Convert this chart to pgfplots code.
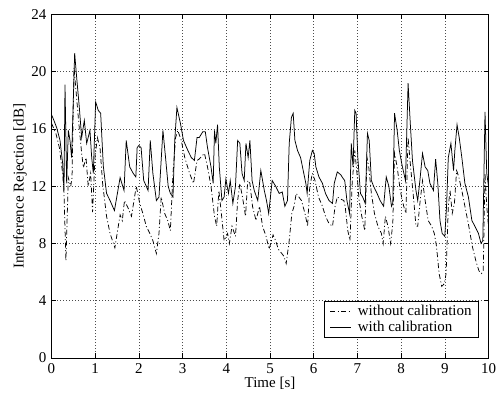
\documentclass[border=0pt]{standalone}
\usepackage{fontspec}
\setmainfont{Liberation Serif}
\usepackage{pgfplots}
\pgfplotsset{compat=1.18}
\begin{document}
\fontsize{15}{18}\selectfont
\begin{tikzpicture}
\begin{axis}[name=ax, scale only axis, width=437pt, height=343.5pt,
  xmin=0, xmax=10, ymin=0, ymax=24,
  xtick={0,1,...,10}, ytick={0,4,...,24},
  tick align=inside, tick pos=both, major tick length=5pt,
  every tick/.style={black, line width=0.6pt},
  axis line style={line width=1pt},
  grid=major,
  major grid style={black!70, line width=0.5pt, dash pattern=on 0.7pt off 2.3pt},
  /pgf/number format/assume math mode=true,
  ticklabel style={font=\fontsize{15}{18}\selectfont},
  xlabel={Time [s]}, ylabel={Interference Rejection [dB]},
  xlabel style={at={(axis description cs:0.5,-0.0728)}, anchor=center},
  ylabel style={at={(axis description cs:-0.072,0.5)}, anchor=center},
  legend style={at={(0.978,0.058)}, anchor=south east, draw=black, line width=0.6pt,
    fill=white, font=\fontsize{15}{18}\selectfont, row sep=-1.5pt, column sep=4pt,
    inner xsep=5pt, inner ysep=2.5pt},
  legend cell align=left,
  legend image code/.code={\draw[#1] (0cm,0cm) -- (0.75cm,0cm);},
]
\addplot[black, line width=0.75pt, sharp plot, dash pattern=on 5pt off 2.5pt on 1pt off 2.5pt] coordinates {
(0,16.4)(0.10,15.7)(0.18,14.7)(0.255,12.9)(0.286,11.5)(0.33,6.8)(0.385,12.6)(0.44,12.0)(0.47,12.6)
(0.515,20.3)(0.614,16.8)(0.69,14.3)(0.73,13.3)(0.79,14.0)(0.84,12.0)(0.896,12.9)(0.94,10.2)
(0.995,14.0)(1.05,15.4)(1.11,14.7)(1.17,12.2)(1.26,9.9)(1.34,8.7)(1.45,7.7)(1.57,10.0)(1.62,9.6)
(1.67,11.0)(1.75,10.5)(1.83,9.9)(1.94,12.0)(2.02,10.8)(2.09,10.1)(2.17,9.2)(2.25,8.7)(2.32,8.2)
(2.40,7.3)(2.46,8.7)(2.51,11.25)(2.59,10.1)(2.66,9.6)(2.72,8.9)(2.78,12.9)(2.84,15.4)(2.89,15.9)
(2.97,15.2)(3.05,14.0)(3.16,12.9)(3.25,12.2)(3.33,13.8)(3.38,13.9)(3.50,14.3)(3.57,13.35)
(3.65,12.0)(3.73,9.9)(3.78,9.2)(3.83,11.7)(3.88,10.3)(3.95,8.2)(4.03,8.7)(4.07,8.0)(4.13,9.2)
(4.21,8.5)(4.26,11.0)(4.31,12.2)(4.37,11.25)(4.44,9.9)(4.49,12.4)(4.54,12.2)(4.60,10.6)
(4.68,9.6)(4.76,10.6)(4.83,9.2)(4.91,8.5)(4.98,7.6)(5.07,8.6)(5.13,8.2)(5.19,7.6)(5.27,7.3)
(5.32,7.1)(5.37,6.6)(5.44,8.2)(5.50,10.1)(5.55,10.6)(5.60,11.5)(5.66,11.25)(5.72,11.0)
(5.80,10.1)(5.86,9.2)(5.91,12.0)(5.97,12.9)(6.03,12.4)(6.11,11.25)(6.20,10.6)(6.27,9.9)
(6.35,9.4)(6.43,9.2)(6.49,10.6)(6.54,11.25)(6.62,11.1)(6.69,11.0)(6.72,10.6)(6.78,8.9)
(6.83,8.2)(6.88,12.2)(6.94,14.5)(6.99,12.9)(7.04,11.0)(7.10,9.9)(7.17,8.9)(7.22,14.0)
(7.26,13.35)(7.32,11.5)(7.39,10.1)(7.47,9.2)(7.55,8.7)(7.59,8.0)(7.64,9.9)(7.70,9.2)(7.76,8.0)
(7.81,9.4)(7.85,14.3)(7.91,13.35)(7.98,11.7)(8.06,10.6)(8.11,10.1)(8.16,15.4)(8.21,13.6)
(8.29,11.0)(8.34,9.2)(8.38,9.2)(8.43,10.8)(8.49,12.4)(8.55,11.0)(8.62,9.6)(8.70,9.2)(8.76,8.7)
(8.81,7.8)(8.87,5.9)(8.93,5.0)(8.99,5.2)(9.03,5.9)(9.08,10.6)(9.12,11.7)(9.17,10.1)(9.22,10.8)
(9.27,13.1)(9.32,12.65)(9.39,11.7)(9.46,10.6)(9.55,9.2)(9.63,7.8)(9.71,6.8)(9.78,6.1)(9.84,5.9)
(9.88,6.1)(9.92,12.9)(9.96,10.6)(10.0,9.2)
};
\addlegendentry{without calibration}
\addplot[black, line width=0.75pt, sharp plot] coordinates {
(0,17.0)(0.042,16.7)(0.118,16.1)(0.195,15.2)(0.255,13.6)(0.286,11.7)(0.309,19.1)(0.347,12.2)
(0.385,15.9)(0.423,15.2)(0.461,14.0)(0.53,21.3)(0.576,19.6)(0.637,17.5)(0.69,15.4)(0.751,16.6)
(0.805,15.0)(0.88,15.9)(0.92,14.0)(0.957,12.9)(1.01,17.9)(1.07,17.3)(1.125,17.1)(1.186,13.4)
(1.26,11.5)(1.34,11.0)(1.44,10.3)(1.57,12.6)(1.66,11.7)(1.71,15.2)(1.79,13.35)(1.87,12.9)
(1.93,12.65)(1.96,14.7)(2.0,14.85)(2.05,14.7)(2.11,12.4)(2.17,12.0)(2.21,11.7)(2.26,15.2)
(2.32,12.9)(2.40,11.0)(2.46,11.25)(2.55,15.9)(2.61,14.0)(2.67,12.0)(2.72,11.5)(2.78,11.25)
(2.82,15.2)(2.87,17.5)(2.95,16.4)(3.02,15.2)(3.12,14.5)(3.2,14.0)(3.27,13.8)(3.33,15.4)
(3.38,15.4)(3.46,15.8)(3.52,15.8)(3.57,14.7)(3.65,13.35)(3.70,12.2)(3.73,15.9)(3.76,15.0)
(3.80,16.3)(3.84,13.35)(3.90,11.0)(3.95,11.25)(3.99,12.5)(4.05,11.5)(4.09,12.4)(4.15,10.8)
(4.21,12.0)(4.26,15.2)(4.31,15.0)(4.36,12.9)(4.41,12.4)(4.45,15.0)(4.50,14.0)(4.54,15.2)
(4.59,12.4)(4.64,11.7)(4.72,11.0)(4.79,13.1)(4.87,11.7)(4.92,11.0)(4.97,10.1)(5.05,12.4)
(5.13,12.0)(5.21,11.5)(5.28,11.6)(5.34,10.6)(5.40,11.0)(5.44,15.0)(5.49,16.8)(5.53,17.1)
(5.57,15.2)(5.63,14.5)(5.70,14.0)(5.76,13.1)(5.82,12.2)(5.85,11.5)(5.91,13.8)(5.97,14.5)
(6.01,14.3)(6.05,13.35)(6.12,12.65)(6.20,12.2)(6.27,11.5)(6.35,11.0)(6.43,10.8)(6.47,12.2)
(6.54,13.0)(6.62,12.8)(6.66,12.6)(6.71,12.4)(6.76,11.0)(6.82,10.1)(6.86,15.0)(6.90,13.35)
(6.94,17.3)(6.97,17.1)(7.01,14.0)(7.07,11.5)(7.12,11.25)(7.18,10.8)(7.23,15.7)(7.27,15.2)
(7.32,12.4)(7.37,12.0)(7.45,11.5)(7.52,11.0)(7.60,10.6)(7.66,12.65)(7.72,12.0)(7.78,10.6)
(7.81,10.8)(7.85,17.1)(7.91,15.9)(7.96,14.5)(8.02,13.5)(8.10,12.4)(8.16,19.2)(8.21,16.4)
(8.26,13.8)(8.34,11.7)(8.38,11.0)(8.43,12.4)(8.49,14.3)(8.55,13.35)(8.61,13.1)(8.66,12.2)
(8.74,11.7)(8.79,13.9)(8.84,12.2)(8.89,9.6)(8.94,8.7)(9.00,8.5)(9.04,10.6)(9.08,14.0)
(9.14,15.0)(9.20,13.1)(9.23,14.5)(9.28,16.3)(9.33,15.4)(9.39,14.0)(9.46,12.2)(9.54,11.25)
(9.62,9.6)(9.69,9.2)(9.77,8.7)(9.83,8.0)(9.87,8.2)(9.92,17.2)(9.96,12.9)(10.0,12.0)
};
\addlegendentry{with calibration}
\end{axis}
\pgfresetboundingbox
\path ([xshift=-51.5pt,yshift=-36pt]ax.south west) rectangle ([xshift=12.5pt,yshift=14.5pt]ax.north east);
\end{tikzpicture}
\end{document}
